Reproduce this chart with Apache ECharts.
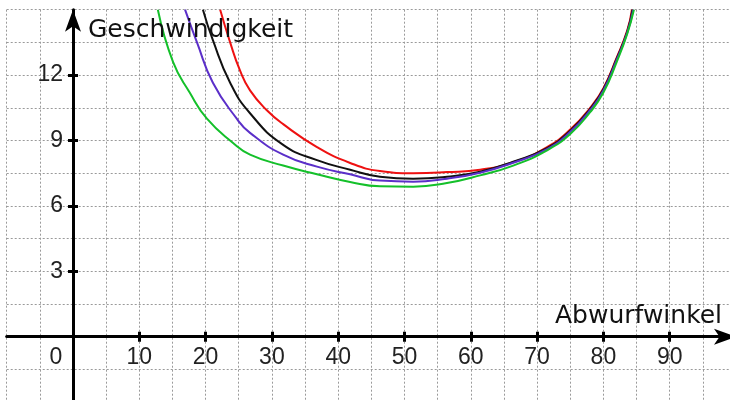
<!DOCTYPE html>
<html>
<head>
<meta charset="utf-8">
<script src="https://cdn.jsdelivr.net/npm/echarts@6/dist/echarts.min.js"></script>
<style>html,body{margin:0;padding:0;background:#fff}#c{width:730px;height:400px}</style>
</head>
<body>
<div id="c"></div>
<script>
// Data
var xTitle = 'Abwurfwinkel';
var yTitle = 'Geschwindigkeit';
var xTicks = [0, 10, 20, 30, 40, 50, 60, 70, 80, 90];
var yTicks = [3, 6, 9, 12];

var redAngle    = [22.2, 23.7, 25.2, 26.7, 29.2, 31.7, 36.8, 41.8, 46.3, 51.3, 56.4, 61.4, 66.4, 71.5, 75, 78, 80, 82, 83.6, 84.3];
var redSpeed    = [15, 13.5, 12.2, 11.3, 10.4, 9.75, 8.7, 7.97, 7.6, 7.5, 7.55, 7.66, 8.0, 8.7, 9.5, 10.5, 11.4, 12.8, 14.05, 15];
var blackAngle  = [19.6, 21.1, 23.7, 26.7, 31.7, 36.8, 41.8, 46.3, 51.3, 56.4, 61.4, 66.4, 71.5, 75, 78, 80, 82, 83.6, 84.4];
var blackSpeed  = [15, 13.6, 11.65, 10.25, 8.8, 8.1, 7.66, 7.34, 7.25, 7.34, 7.57, 8.03, 8.65, 9.45, 10.45, 11.35, 12.75, 14.0, 15];
var purpleAngle = [16.9, 18.7, 21.1, 24.7, 26.7, 31.7, 36.8, 41.8, 46.3, 51.3, 56.4, 61.4, 66.4, 71.5, 75, 78, 80, 82, 83.6, 84.5];
var purpleSpeed = [15, 13.5, 11.65, 10.0, 9.35, 8.35, 7.8, 7.45, 7.16, 7.11, 7.25, 7.52, 7.98, 8.6, 9.4, 10.4, 11.3, 12.7, 13.95, 15];
var greenAngle  = [12.8, 15.1, 17.6, 20.2, 24.1, 26.7, 31.7, 36.8, 41.8, 46.3, 51.3, 56.4, 61.4, 66.4, 71.5, 75, 78, 80, 82, 83.6, 84.6];
var greenSpeed  = [15, 12.6, 11.2, 10.0, 8.9, 8.35, 7.85, 7.45, 7.1, 6.9, 6.88, 7.05, 7.4, 7.85, 8.55, 9.3, 10.3, 11.2, 12.6, 13.9, 15];

function pairs(a, b) { return a.map(function (v, i) { return [v, b[i]]; }); }

var curves = [
  { name: 'rot', color: '#ee1111', x: redAngle, y: redSpeed },
  { name: 'schwarz', color: '#111111', x: blackAngle, y: blackSpeed },
  { name: 'violett', color: '#5b2fc9', x: purpleAngle, y: purpleSpeed },
  { name: 'grün', color: '#14c02a', x: greenAngle, y: greenSpeed }
];

// layout (pixels)
var W = 730, H = 400;
var gLeft = 6.7, gRight = -6, gTop = 9.7, gBottom = -2.1;
var X_MIN = -10, X_MAX = 100, Y_MIN = -3, Y_MAX = 15;
var gW = W - gLeft - gRight, gH = H - gTop - gBottom;
var xZeroOffset = -(0 - X_MIN) / (X_MAX - X_MIN) * gW;   // move y-axis from left edge to x=0
var yZeroOffset = -(0 - Y_MIN) / (Y_MAX - Y_MIN) * gH;   // move x-axis from bottom edge to y=0

var gridLine = { show: true, lineStyle: { color: '#9a9a9a', width: 1, type: [2, 2] } };
var labelFont = { fontFamily: 'Liberation Sans', fontSize: 23, color: '#222' };
var axisLineStyle = { color: '#000', width: 3 };
var tickStyle = { color: '#000', width: 3 };

var option = {
  animation: false,
  backgroundColor: '#fff',
  title: [
    { text: yTitle, left: 83, top: 13, textStyle: { fontFamily: 'DejaVu Sans', fontSize: 25, fontWeight: 'normal', color: '#111' } },
    { text: xTitle, left: 550, top: 299, textStyle: { fontFamily: 'DejaVu Sans', fontSize: 25, fontWeight: 'normal', color: '#111' } }
  ],
  grid: { left: gLeft, right: gRight, top: gTop, bottom: gBottom, containLabel: false, outerBoundsMode: 'none' },
  xAxis: [
    { // grid lines only
      type: 'value', min: X_MIN, max: X_MAX, interval: 5, position: 'bottom',
      axisLine: { show: false }, axisTick: { show: false }, axisLabel: { show: false },
      splitLine: gridLine
    },
    { // main axis at y = 0, ticks downward
      type: 'value', min: X_MIN, max: X_MAX, interval: 10, position: 'bottom', offset: yZeroOffset,
      axisLine: { show: true, onZero: false, lineStyle: axisLineStyle, symbol: ['none', 'arrow'], symbolSize: [12, 22] },
      axisTick: { show: true, length: 5, lineStyle: tickStyle, customValues: xTicks.filter(function (v) { return v !== 0; }) },
      splitLine: { show: false },
      axisLabel: Object.assign({}, labelFont, {
        margin: 9,
        customValues: xTicks,
        formatter: function (v) { return v === 0 ? '{o|0}' : String(v); },
        rich: { o: Object.assign({}, labelFont, { padding: [0, 34, 0, 0] }) }
      })
    },
    { // ticks upward at y = 0
      type: 'value', min: X_MIN, max: X_MAX, interval: 10, position: 'top', offset: -(gH + yZeroOffset),
      axisLine: { show: false, onZero: false },
      axisTick: { show: true, length: 5, lineStyle: tickStyle, customValues: xTicks.filter(function (v) { return v !== 0; }) },
      splitLine: { show: false }, axisLabel: { show: false }
    }
  ],
  yAxis: [
    { // grid lines only
      type: 'value', min: Y_MIN, max: Y_MAX, interval: 1.5, position: 'left',
      axisLine: { show: false }, axisTick: { show: false }, axisLabel: { show: false },
      splitLine: gridLine
    },
    { // main axis at x = 0, ticks leftward
      type: 'value', min: Y_MIN, max: Y_MAX, interval: 3, position: 'left', offset: xZeroOffset,
      axisLine: { show: true, onZero: false, lineStyle: axisLineStyle, symbol: ['none', 'arrow'], symbolSize: [12, 22] },
      axisTick: { show: true, length: 5, lineStyle: tickStyle, customValues: yTicks },
      splitLine: { show: false },
      axisLabel: Object.assign({}, labelFont, { margin: 10, customValues: yTicks })
    },
    { // ticks rightward at x = 0
      type: 'value', min: Y_MIN, max: Y_MAX, interval: 3, position: 'right', offset: -(gW + xZeroOffset),
      axisLine: { show: false, onZero: false },
      axisTick: { show: true, length: 5, lineStyle: tickStyle, customValues: yTicks },
      splitLine: { show: false }, axisLabel: { show: false }
    }
  ],
  series: curves.map(function (c) {
    return {
      name: c.name, type: 'line', xAxisIndex: 0, yAxisIndex: 0,
      data: pairs(c.x, c.y), smooth: 0.5, showSymbol: false, symbol: 'none',
      lineStyle: { color: c.color, width: 2 }, clip: true, z: 3
    };
  })
};

var chart = echarts.init(document.getElementById('c'), null, { renderer: 'canvas' });
chart.setOption(option);
</script>
</body>
</html>
